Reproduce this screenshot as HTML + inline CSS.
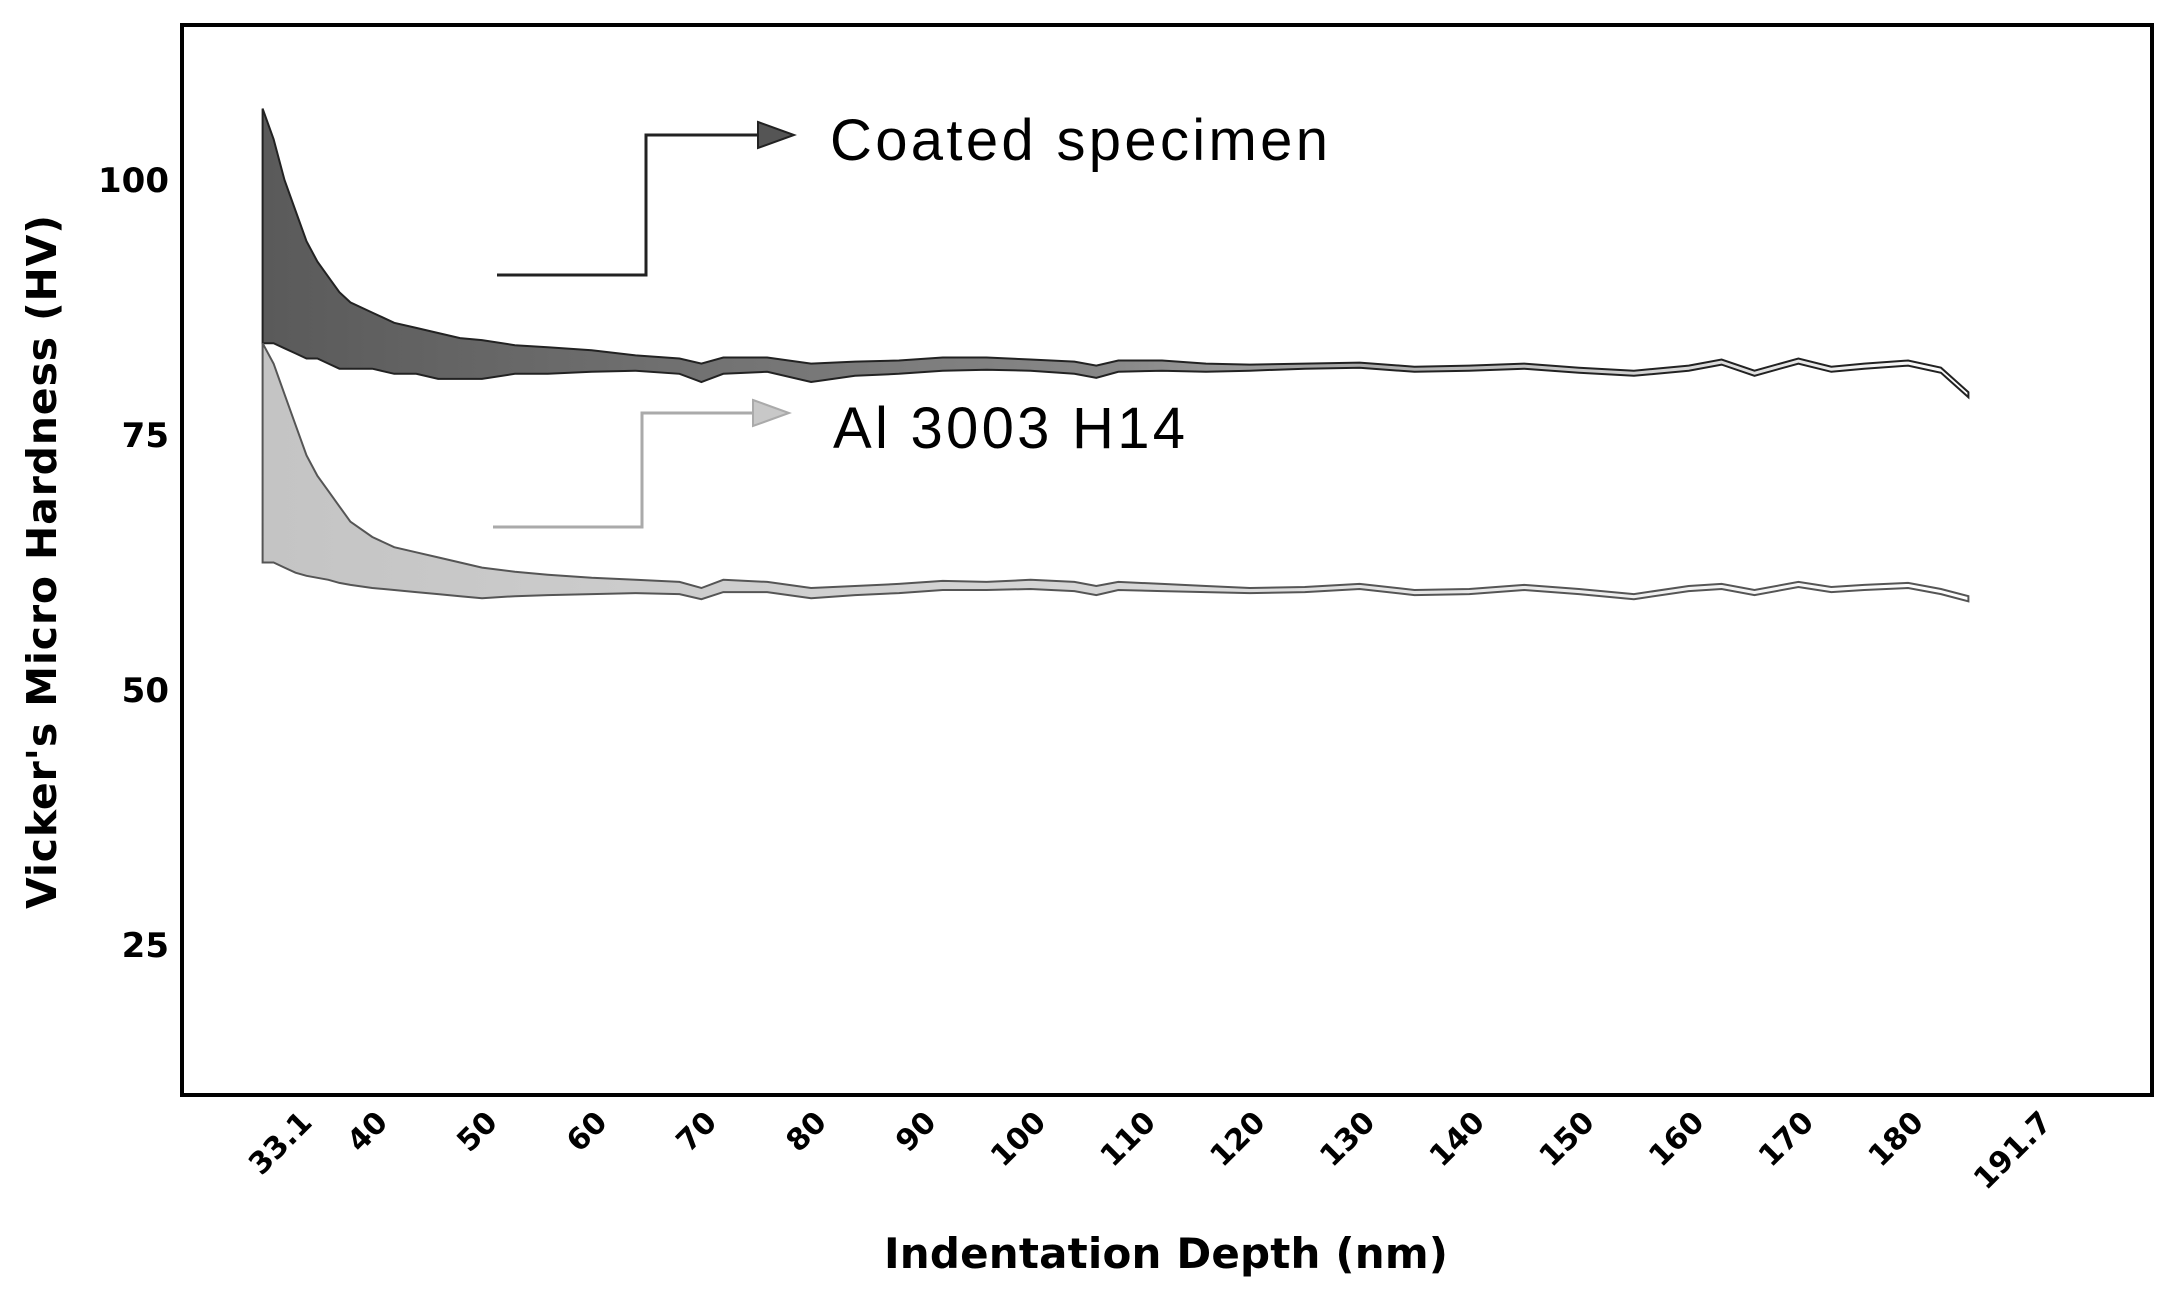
<!DOCTYPE html>
<html><head><meta charset="utf-8"><style>
html,body{margin:0;padding:0;background:#fff;}
svg{display:block;}
</style></head><body>
<svg id="chart" width="2177" height="1289" viewBox="0 0 2177 1289" xmlns="http://www.w3.org/2000/svg">
<defs>
<linearGradient id="gCoat" x1="0" x2="1" y1="0" y2="0">
<stop offset="0" stop-color="#5a5a5a"/><stop offset="0.5" stop-color="#888"/><stop offset="1" stop-color="#fff"/>
</linearGradient>
<linearGradient id="gAl" x1="0" x2="1" y1="0" y2="0">
<stop offset="0" stop-color="#c4c4c4"/><stop offset="0.5" stop-color="#d6d6d6"/><stop offset="1" stop-color="#fff"/>
</linearGradient>
</defs>
<g id="plot"></g>
<rect x="182" y="25" width="1970" height="1070" fill="none" stroke="#000" stroke-width="4"/>
<g id="yticks"></g>
<g id="xticks"></g>
<text transform="translate(56,562) rotate(-90)" text-anchor="middle" font-family="DejaVu Sans, sans-serif" font-weight="bold" font-size="41" textLength="694">Vicker's Micro Hardness (HV)</text>
<text x="1166" y="1268" text-anchor="middle" font-family="DejaVu Sans, sans-serif" font-weight="bold" font-size="42" textLength="564">Indentation Depth (nm)</text>
<g>
<polyline points="497,275 646,275 646,135 762,135" fill="none" stroke="#222" stroke-width="3"/>
<polygon points="758,122 794,135 758,148" fill="#555" stroke="#222" stroke-width="2"/>
<text x="830" y="160" font-family="Liberation Sans, sans-serif" font-size="58" textLength="498">Coated specimen</text>
</g>
<g>
<polyline points="493,527 642,527 642,413 757,413" fill="none" stroke="#aaa" stroke-width="3"/>
<polygon points="753,400 789,413 753,426" fill="#c8c8c8" stroke="#aaa" stroke-width="2"/>
<text x="833" y="448" font-family="Liberation Sans, sans-serif" font-size="58" textLength="352">Al 3003 H14</text>
</g>
</svg>
<script>
const depth = [30,31,32,33,34,35,36,37,38,40,42,44,46,48,50,53,56,60,64,68,70,72,76,80,84,88,92,96,100,104,106,108,112,116,120,125,130,135,140,145,150,155,160,163,166,170,173,176,180,183,185.5];
const coatedUpper = [107,104,100,97,94,92,90.5,89,88,87,86,85.5,85,84.5,84.3,83.8,83.6,83.3,82.8,82.5,82,82.6,82.6,82,82.2,82.3,82.6,82.6,82.4,82.2,81.8,82.3,82.3,82,81.9,82,82.1,81.7,81.8,82,81.6,81.3,81.8,82.4,81.3,82.5,81.7,82,82.3,81.6,79.2];
const coatedLower = [84,84,83.5,83,82.5,82.5,82,81.5,81.5,81.5,81,81,80.5,80.5,80.5,81,81,81.2,81.3,81,80.2,81,81.2,80.2,80.8,81,81.3,81.4,81.3,81,80.6,81.2,81.3,81.2,81.3,81.5,81.6,81.2,81.3,81.5,81.1,80.8,81.3,81.9,80.8,82,81.2,81.5,81.8,81.1,78.7];
const alUpper = [84,82,79,76,73,71,69.5,68,66.5,65,64,63.5,63,62.5,62,61.6,61.3,61,60.8,60.6,60,60.8,60.6,60,60.2,60.4,60.7,60.6,60.8,60.6,60.2,60.6,60.4,60.2,60,60.1,60.4,59.8,59.9,60.3,59.9,59.4,60.2,60.4,59.8,60.6,60.1,60.3,60.5,59.9,59.2];
const alLower = [62.5,62.5,62,61.5,61.2,61,60.8,60.5,60.3,60,59.8,59.6,59.4,59.2,59,59.2,59.3,59.4,59.5,59.4,58.9,59.6,59.6,59,59.3,59.5,59.8,59.8,59.9,59.7,59.3,59.8,59.7,59.6,59.5,59.6,59.9,59.3,59.4,59.8,59.4,58.9,59.7,59.9,59.3,60.1,59.6,59.8,60,59.4,58.7];
const yTicks = [25,50,75,100];
const xTicks = [33.1,40,50,60,70,80,90,100,110,120,130,140,150,160,170,180,191.7];

const NS='http://www.w3.org/2000/svg';
function sx(v){return 482+(v-50)*10.97;}
function sy(v){return 180+(100-v)*10.2;}
const plot=document.getElementById('plot');
function band(up,lo,fill,stroke,name){
  let pts=depth.map((d,i)=>sx(d).toFixed(1)+','+sy(up[i]).toFixed(1));
  for(let i=depth.length-1;i>=0;i--)pts.push(sx(depth[i]).toFixed(1)+','+sy(lo[i]).toFixed(1));
  const p=document.createElementNS(NS,'polygon');
  p.setAttribute('points',pts.join(' '));
  p.setAttribute('fill',fill);p.setAttribute('stroke',stroke);p.setAttribute('stroke-width','2');
  
  
  plot.appendChild(p);
}
band(coatedUpper,coatedLower,'url(#gCoat)','#222','coated-specimen-band');
band(alUpper,alLower,'url(#gAl)','#555','al-3003-h14-band');

const yg=document.getElementById('yticks');
yTicks.forEach(v=>{
  const t=document.createElementNS(NS,'text');
  t.setAttribute('x','169');t.setAttribute('y',(sy(v)+12).toFixed(1));
  t.setAttribute('text-anchor','end');t.setAttribute('font-family','DejaVu Sans, sans-serif');
  t.setAttribute('font-weight','bold');t.setAttribute('font-size','34');
  t.textContent=v;
  
  
  yg.appendChild(t);
});
const xg=document.getElementById('xticks');
xTicks.forEach(v=>{
  const t=document.createElementNS(NS,'text');
  const x=sx(v)+17,y=1124;
  t.setAttribute('transform','translate('+x.toFixed(1)+','+y+') rotate(-45)');
  t.setAttribute('text-anchor','end');t.setAttribute('font-family','DejaVu Sans, sans-serif');
  t.setAttribute('font-weight','bold');t.setAttribute('font-size','30');
  t.textContent=v;
  
  
  xg.appendChild(t);
});
</script>
</body></html>
